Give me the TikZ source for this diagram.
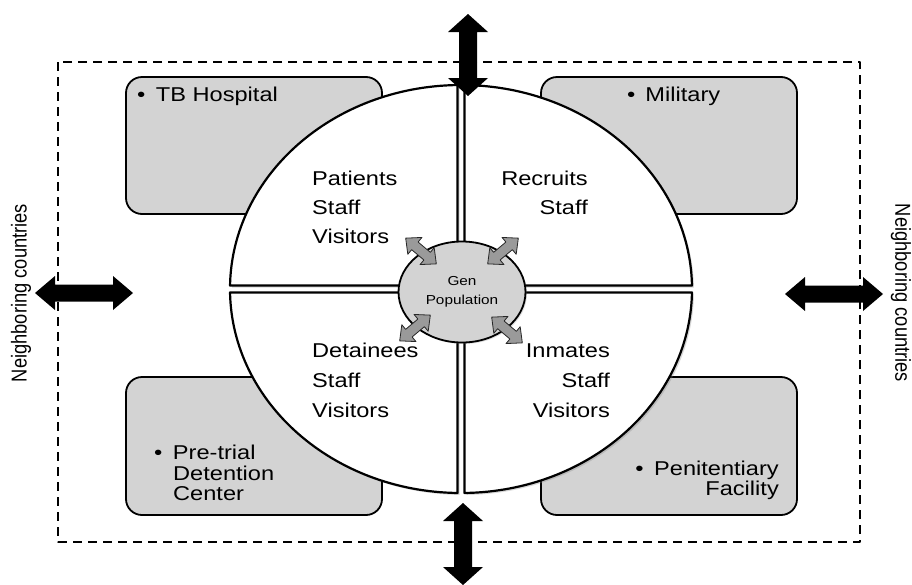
\documentclass[tikz,border=0pt]{standalone}
\usepackage{fontspec}
\setmainfont{Liberation Sans}[FakeStretch=1.18]
\newfontfamily\rotsans{Liberation Sans}
\usetikzlibrary{shadows,shapes.geometric}
\definecolor{boxgray}{HTML}{D3D3D3}
\definecolor{arrgray}{HTML}{9A9A9A}
\begin{document}
\begin{tikzpicture}[x=1pt,y=1pt,line join=round,
  txt/.style={inner sep=0pt, font=\fontsize{20}{24}\selectfont},
  box/.style={draw=black, line width=1.8pt, fill=boxgray, rounded corners=16pt, inner sep=0pt},
  quad/.style={draw=black, line width=2.2pt, fill=white,
    drop shadow={shadow xshift=2pt, shadow yshift=-2pt, opacity=0.3}},
  bigarr/.style={fill=black},
  smallarr/.style={fill=arrgray, draw=black!85, line width=0.8pt},
  pics/dbarrow/.style args={#1/#2/#3/#4}{code={
    \path[pic actions] (-#1,0) -- (-#1+#4,#3) -- (-#1+#4,#2) -- (#1-#4,#2) -- (#1-#4,#3)
      -- (#1,0) -- (#1-#4,-#3) -- (#1-#4,-#2) -- (-#1+#4,-#2) -- (-#1+#4,-#3) -- cycle;
  }}
]
\useasboundingbox (0,0) rectangle (912,-584);
\fill[white] (0,0) rectangle (912,-584);

% dashed frame
\draw[line width=1.8pt, dash pattern=on 9pt off 6pt] (58,-62) rectangle (860,-542);

% setting boxes
\node[box, minimum width=256pt, minimum height=137pt] (tbbox) at (254,-145.5) {};
\node[box, minimum width=256pt, minimum height=137pt] (milbox) at (669,-145.5) {};
\node[box, minimum width=256pt, minimum height=138pt] (ptbox) at (254,-446) {};
\node[box, minimum width=256pt, minimum height=138pt] (penbox) at (669,-446) {};

% ellipse quadrants
\path[quad] (464.5,-285.5) -- (691.97,-285.5)
  arc[start angle=0.983, end angle=89.132, x radius=231pt, y radius=204pt] -- cycle;
\path[quad] (457.5,-285.5) -- (230.03,-285.5)
  arc[start angle=179.017, end angle=90.868, x radius=231pt, y radius=204pt] -- cycle;
\path[quad] (457.5,-292.5) -- (230.03,-292.5)
  arc[start angle=180.983, end angle=269.132, x radius=231pt, y radius=204pt] -- cycle;
\path[quad] (464.5,-292.5) -- (691.97,-292.5)
  arc[start angle=359.017, end angle=270.868, x radius=231pt, y radius=204pt] -- cycle;

% general population
\node[ellipse, draw=black, line width=1.8pt, fill=boxgray, minimum width=127pt, minimum height=101pt,
  inner sep=0pt, align=center, font=\fontsize{13}{19}\selectfont,
  drop shadow={shadow xshift=1.5pt, shadow yshift=-1.5pt, opacity=0.25}] (genpop) at (462,-292) {Gen\\Population};

% small gray double arrows
\pic[smallarr, rotate=-40] at (421,-251) {dbarrow={20/5/11/12}};
\pic[smallarr, rotate=40] at (503,-251) {dbarrow={20/5/11/12}};
\pic[smallarr, rotate=40] at (415,-328) {dbarrow={20/5/11/12}};
\pic[smallarr, rotate=-40] at (507,-330) {dbarrow={20/5/11/12}};

% big black double arrows
\pic[bigarr] at (84,-293) {dbarrow={49/8.5/17/20}};
\pic[bigarr] at (834,-294) {dbarrow={49/8.5/17/20}};
\pic[bigarr, rotate=90] at (468,-55) {dbarrow={41/9/20/18}};
\pic[bigarr, rotate=90] at (463,-544) {dbarrow={41/9/20/18}};

% quadrant texts
\node[txt, anchor=base west] (pat) at (312,-185) {Patients};
\node[txt, anchor=base west] (stfa) at (312,-214) {Staff};
\node[txt, anchor=base west] (visa) at (312,-243) {Visitors};
\node[txt, anchor=base east] (rec) at (588,-185) {Recruits};
\node[txt, anchor=base east] (stfb) at (588,-214) {Staff};
\node[txt, anchor=base west] (det) at (312,-357) {Detainees};
\node[txt, anchor=base west] (stfc) at (312,-387) {Staff};
\node[txt, anchor=base west] (visc) at (312,-417) {Visitors};
\node[txt, anchor=base east] (inm) at (610,-357) {Inmates};
\node[txt, anchor=base east] (stfd) at (610,-387) {Staff};
\node[txt, anchor=base east] (visd) at (610,-417) {Visitors};

% box texts
\node[txt, anchor=base west] (tbh) at (137,-101) {\textbullet\hspace{10.5pt}TB Hospital};
\node[txt, anchor=base west] (mil) at (627,-101) {\textbullet\hspace{10pt}Military};
\node[txt, anchor=base west] (prea) at (154,-459) {\textbullet\hspace{10.5pt}Pre-trial};
\node[txt, anchor=base west] (preb) at (173,-480) {Detention};
\node[txt, anchor=base west] (prec) at (173,-500) {Center};
\node[txt, anchor=base east] (pena) at (779,-475) {\textbullet\hspace{10.5pt}Penitentiary};
\node[txt, anchor=base east] (penb) at (779,-495) {Facility};

% side labels
\node[inner sep=0pt, rotate=90] (nbl) at (21,-293)
  {\scalebox{1}[1.18]{\rotsans\fontsize{18.3}{20}\selectfont Neighboring countries}};
\node[inner sep=0pt, rotate=-90] (nbr) at (901,-293)
  {\scalebox{1}[1.18]{\rotsans\fontsize{18.3}{20}\selectfont Neighboring countries}};
\end{tikzpicture}
\end{document}
